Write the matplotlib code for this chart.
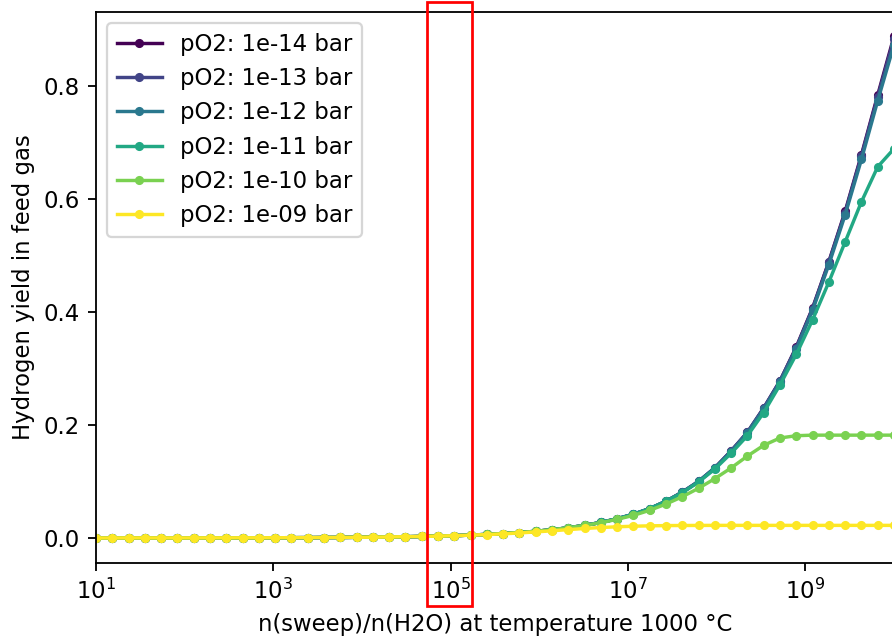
import numpy as np
import matplotlib
matplotlib.use("Agg")
import matplotlib.pyplot as plt
from matplotlib.patches import Rectangle
from matplotlib.ticker import NullLocator

# x: n(sweep)/n(H2O), 50 log-spaced points from 1e1 to 1e10
x_exp_start = 1
x_exp_stop = 10
n_points = 50

labels = ["pO2: 1e-14 bar", "pO2: 1e-13 bar", "pO2: 1e-12 bar",
          "pO2: 1e-11 bar", "pO2: 1e-10 bar", "pO2: 1e-09 bar"]

y_1e14 = [0.0000, 0.0000, 0.0001, 0.0001, 0.0001, 0.0001, 0.0001, 0.0002, 0.0002, 0.0003,
          0.0003, 0.0004, 0.0005, 0.0006, 0.0008, 0.0009, 0.0012, 0.0014, 0.0018, 0.0022,
          0.0027, 0.0033, 0.0041, 0.0051, 0.0063, 0.0078, 0.0096, 0.0118, 0.0146, 0.0180,
          0.0223, 0.0275, 0.034, 0.042, 0.052, 0.065, 0.081, 0.100, 0.124, 0.154,
          0.187, 0.230, 0.278, 0.338, 0.407, 0.489, 0.578, 0.678, 0.784, 0.888]
y_1e13 = [0.0000, 0.0000, 0.0001, 0.0001, 0.0001, 0.0001, 0.0001, 0.0002, 0.0002, 0.0003,
          0.0003, 0.0004, 0.0005, 0.0006, 0.0008, 0.0009, 0.0012, 0.0014, 0.0018, 0.0022,
          0.0027, 0.0033, 0.0041, 0.0051, 0.0063, 0.0078, 0.0096, 0.0118, 0.0146, 0.0180,
          0.0223, 0.0275, 0.034, 0.042, 0.052, 0.065, 0.081, 0.100, 0.124, 0.154,
          0.187, 0.230, 0.278, 0.337, 0.406, 0.488, 0.576, 0.676, 0.781, 0.884]
y_1e12 = [0.0000, 0.0000, 0.0001, 0.0001, 0.0001, 0.0001, 0.0001, 0.0002, 0.0002, 0.0003,
          0.0003, 0.0004, 0.0005, 0.0006, 0.0008, 0.0009, 0.0012, 0.0014, 0.0018, 0.0022,
          0.0027, 0.0033, 0.0041, 0.0051, 0.0063, 0.0078, 0.0096, 0.0118, 0.0146, 0.0180,
          0.0223, 0.0275, 0.034, 0.042, 0.052, 0.065, 0.081, 0.100, 0.124, 0.153,
          0.186, 0.228, 0.276, 0.334, 0.403, 0.484, 0.572, 0.670, 0.774, 0.873]
y_1e11 = [0.0000, 0.0000, 0.0001, 0.0001, 0.0001, 0.0001, 0.0001, 0.0002, 0.0002, 0.0003,
          0.0003, 0.0004, 0.0005, 0.0006, 0.0008, 0.0009, 0.0012, 0.0014, 0.0018, 0.0022,
          0.0027, 0.0033, 0.0041, 0.0051, 0.0063, 0.0078, 0.0096, 0.0118, 0.0146, 0.0180,
          0.0223, 0.0275, 0.034, 0.042, 0.052, 0.065, 0.080, 0.099, 0.122, 0.150,
          0.181, 0.222, 0.271, 0.325, 0.386, 0.453, 0.524, 0.595, 0.657, 0.689]
y_1e10 = [0.0000, 0.0000, 0.0001, 0.0001, 0.0001, 0.0001, 0.0001, 0.0002, 0.0002, 0.0003,
          0.0003, 0.0004, 0.0005, 0.0006, 0.0008, 0.0009, 0.0012, 0.0014, 0.0018, 0.0022,
          0.0027, 0.0033, 0.0041, 0.0051, 0.0063, 0.0078, 0.0096, 0.0118, 0.0146, 0.0180,
          0.0222, 0.027, 0.033, 0.040, 0.049, 0.060, 0.073, 0.088, 0.105, 0.124,
          0.145, 0.164, 0.177, 0.181, 0.182, 0.182, 0.182, 0.182, 0.182, 0.182]
y_1e09 = [0.0000, 0.0000, 0.0001, 0.0001, 0.0001, 0.0001, 0.0001, 0.0002, 0.0002, 0.0003,
          0.0003, 0.0004, 0.0005, 0.0006, 0.0008, 0.0009, 0.0012, 0.0014, 0.0018, 0.0022,
          0.0027, 0.0033, 0.0040, 0.0049, 0.0060, 0.0073, 0.0089, 0.0107, 0.0127, 0.0148,
          0.0168, 0.0185, 0.0198, 0.0208, 0.0215, 0.0219, 0.0221, 0.0222, 0.0223, 0.0223,
          0.0223, 0.0223, 0.0223, 0.0223, 0.0223, 0.0223, 0.0223, 0.0223, 0.0223, 0.0223]

series = [y_1e14, y_1e13, y_1e12, y_1e11, y_1e10, y_1e09]

x = np.logspace(x_exp_start, x_exp_stop, n_points)

dpi = 164
fig = plt.figure(figsize=(892 / dpi, 640 / dpi), dpi=dpi)
ax = fig.add_axes([96 / 892, (640 - 563) / 640, (894 - 96) / 892, (563 - 12) / 640])

colors = plt.cm.viridis(np.linspace(0, 1, len(series)))
for ys, lab, c in zip(series, labels, colors):
    ax.plot(x, ys, marker='.', color=c, label=lab)

ax.set_xscale('log')
ax.set_xlim(1e1, 1e10)
ax.set_ylim(-0.0443, 0.931)
ax.set_xticks([1e1, 1e3, 1e5, 1e7, 1e9])
ax.xaxis.set_minor_locator(NullLocator())
ax.set_xlabel("n(sweep)/n(H2O) at temperature 1000 °C")
ax.set_ylabel("Hydrogen yield in feed gas")
ax.legend(loc='upper left')

# red highlight box around the 10^5 tick label
fig.patches.append(Rectangle((427 / 892, (640 - 606) / 640), 45 / 892, 604 / 640,
                             transform=fig.transFigure, fill=False,
                             edgecolor='red', linewidth=1.2, zorder=10))

fig.savefig("out.png", dpi=dpi)
